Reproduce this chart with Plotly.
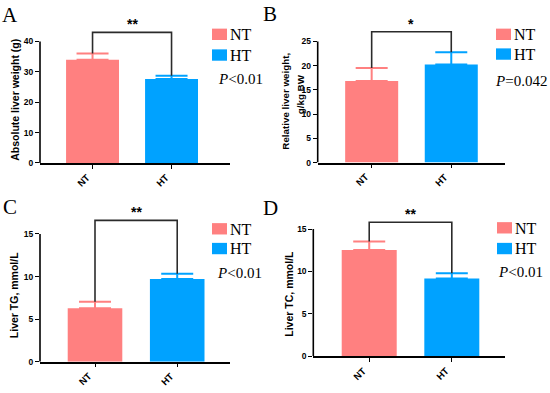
import plotly.graph_objects as go

W, H = 550, 393

# ---------------- data ----------------
groups = ["NT", "HT"]
abs_weight = [34.0, 27.6]
abs_sd = [2.0, 1.1]
rel_weight = [16.85, 20.25]
rel_sd = [2.65, 2.55]
liver_tg = [6.26, 9.70]
liver_tg_sd = [0.77, 0.62]
liver_tc = [12.52, 9.17]
liver_tc_sd = [1.0, 0.62]
bracket_level = [43.0, 27.0, 16.6, 15.8]
star_labels = ["**", "*", "**", "**"]
p_labels = ["<i>P</i>&lt;0.01", "<i>P</i>=0.042", "<i>P</i>&lt;0.01", "<i>P</i>&lt;0.01"]
y_titles = [["Absolute liver weight (g)"], ["Relative liver weight,", "g/kg BW"],
            ["Liver TG, mmol/L"], ["Liver TC, mmol/L"]]
y_tickvals = [[0, 10, 20, 30, 40], [0, 5, 10, 15, 20, 25], [0, 5, 10, 15], [0, 5, 10, 15]]
panel_letters = ["A", "B", "C", "D"]

means = [abs_weight, rel_weight, liver_tg, liver_tc]
sds = [abs_sd, rel_sd, liver_tg_sd, liver_tc_sd]

colors = {"NT": "#FF8080", "HT": "#00A2FF"}
SANS = "Liberation Sans"
SERIF = "Liberation Serif"

# ---------------- layout geometry (pixels) ----------------
geo = [
    dict(x0=40, x1=230, xr=(-0.665, 1.74), y0=165.0, ppu=3.075, ymax=46.0, bw=0.67,
         letter=(10, 15), ytitle=[(15, 101)], tsize=10.5,
         leg=(212, 227, 29, 50), p=(216, 80)),
    dict(x0=317.7, x1=505, xr=(-0.678, 1.675), y0=164.7, ppu=4.908, ymax=28.5, bw=0.666,
         letter=(270, 14), ytitle=[(286, 103), (300.5, 96)], tsize=9.8,
         leg=(496, 511, 29, 49), p=(493, 82)),
    dict(x0=40, x1=230, xr=(-0.669, 1.642), y0=366.3, ppu=8.62, ymax=17.5, bw=0.664,
         letter=(10, 210), ytitle=[(14, 299)], tsize=10.5,
         leg=(212, 227, 226, 246), p=(215, 277)),
    dict(x0=313.3, x1=505, xr=(-0.677, 1.644), y0=360.7, ppu=8.58, ymax=16.8, bw=0.666,
         letter=(270, 211), ytitle=[(289, 297.5)], tsize=10.5,
         leg=(497, 512, 225, 246), p=(496, 276)),
]

def fx(px):
    return px / W

def fy(py):
    return 1 - py / H

fig = go.Figure()
shapes = []
annotations = []
layout_axes = {}

for i in range(4):
    g = geo[i]
    sfx = "" if i == 0 else str(i + 1)
    xa, ya = "x" + sfx, "y" + sfx
    top_px = g["y0"] - g["ymax"] * g["ppu"]
    layout_axes["xaxis" + sfx] = dict(
        domain=[fx(g["x0"]), fx(g["x1"])], anchor=ya, type="category",
        categoryorder="array", categoryarray=groups,
        range=list(g["xr"]), showline=True, linecolor="black", linewidth=1.6,
        ticks="outside", ticklen=4, tickwidth=1.4, tickcolor="black",
        showticklabels=False,
        showgrid=False, zeroline=False, fixedrange=True,
    )
    layout_axes["yaxis" + sfx] = dict(
        domain=[fy(g["y0"]), fy(top_px)], anchor=xa,
        range=[0, g["ymax"]], showline=False,
        tickvals=y_tickvals[i], ticks="outside", ticklen=4, tickwidth=1.4, tickcolor="black",
        tickfont=dict(family=SANS, size=8.5, color="black", weight="bold"),
        showgrid=False, zeroline=False, fixedrange=True,
    )
    # bars with error bars
    for j, grp in enumerate(groups):
        fig.add_trace(go.Bar(
            x=[grp], y=[means[i][j]], width=g["bw"], xaxis=xa, yaxis=ya,
            marker=dict(color=colors[grp], line=dict(width=0)),
            error_y=dict(type="data", symmetric=False, array=[sds[i][j]], arrayminus=[0],
                         color=colors[grp], thickness=2, width=16),
            showlegend=False, hoverinfo="skip",
        ))
        # rotated category label under the tick
        annotations.append(dict(
            x=grp, y=0, xref=xa, yref=ya, text="<b>" + grp + "</b>", textangle=-45,
            showarrow=False, xanchor="right", yanchor="top", xshift=2, yshift=-6,
            font=dict(family=SANS, size=9.5, color="black"),
        ))
    # significance bracket
    tops = [means[i][j] + sds[i][j] for j in range(2)]
    fig.add_trace(go.Scatter(
        x=[groups[0], groups[0], groups[1], groups[1]],
        y=[tops[0], bracket_level[i], bracket_level[i], tops[1]],
        mode="lines", line=dict(color="#2b2b2b", width=1.6),
        xaxis=xa, yaxis=ya, showlegend=False, hoverinfo="skip",
    ))
    annotations.append(dict(
        x=0.5, y=bracket_level[i], xref=xa, yref=ya, text="<b>" + star_labels[i] + "</b>",
        showarrow=False, yanchor="middle", yshift=8,
        font=dict(family=SANS, size=14, color="black"),
    ))
    # y axis line (only up to the top tick)
    shapes.append(dict(
        type="line", xref=xa + " domain", yref=ya, x0=0, x1=0, y0=0, y1=y_tickvals[i][-1],
        line=dict(color="black", width=1.6),
    ))
    # y title
    for k, line_txt in enumerate(y_titles[i]):
        tx, ty = g["ytitle"][k]
        annotations.append(dict(
            x=fx(tx), y=fy(ty), xref="paper", yref="paper",
            text="<b>" + line_txt + "</b>", textangle=-90, showarrow=False,
            xanchor="center", yanchor="middle",
            font=dict(family=SANS, size=g["tsize"], color="black"),
        ))
    # panel letter
    annotations.append(dict(
        x=fx(g["letter"][0]), y=fy(g["letter"][1]), xref="paper", yref="paper",
        text=panel_letters[i], showarrow=False, xanchor="center", yanchor="middle",
        font=dict(family=SERIF, size=21, color="black"),
    ))
    # legend squares and labels
    lx0, lx1, ly_nt, ly_ht = g["leg"]
    for j, grp in enumerate(groups):
        yy = [ly_nt, ly_ht][j]
        shapes.append(dict(
            type="rect", xref="paper", yref="paper",
            x0=fx(lx0), x1=fx(lx1), y0=fy(yy), y1=fy(yy + 11.5),
            fillcolor=colors[grp], line=dict(width=0),
        ))
        annotations.append(dict(
            x=fx(lx1 + 1), y=fy(yy + 6), xref="paper", yref="paper", text=grp,
            showarrow=False, xanchor="left", yanchor="middle",
            font=dict(family=SERIF, size=16, color="black"),
        ))
    annotations.append(dict(
        x=fx(g["p"][0]), y=fy(g["p"][1]), xref="paper", yref="paper", text=p_labels[i],
        showarrow=False, xanchor="left", yanchor="middle",
        font=dict(family=SERIF, size=15, color="black"),
    ))

fig.update_layout(
    width=W, height=H, margin=dict(l=0, r=0, t=0, b=0),
    paper_bgcolor="white", plot_bgcolor="white", barmode="overlay",
    shapes=shapes, annotations=annotations, showlegend=False,
    **layout_axes,
)

fig.write_html("out.html", config={"displayModeBar": False},
               post_script="document.body.style.margin='0';document.body.style.overflow='hidden';")
